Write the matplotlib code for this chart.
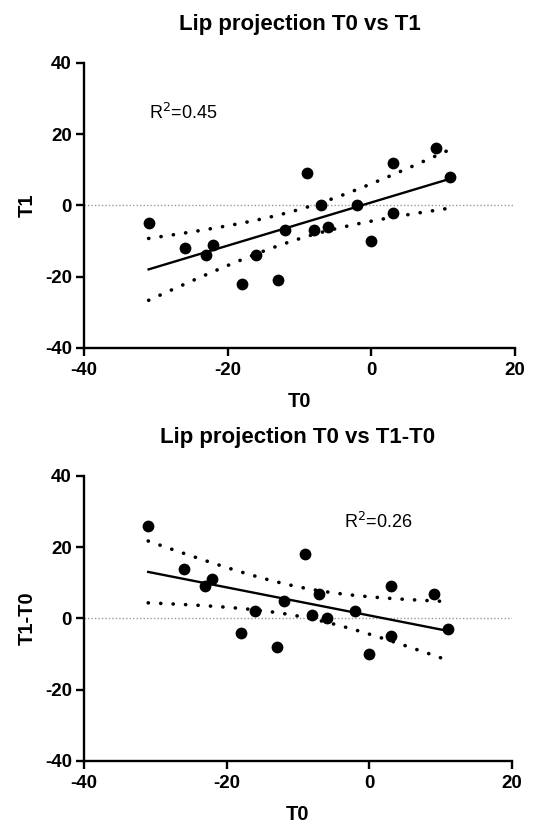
import matplotlib
matplotlib.use('Agg')
import matplotlib.pyplot as plt
import numpy as np

plt.rcParams['font.family'] = ['Liberation Sans', 'DejaVu Sans']
plt.rcParams['axes.unicode_minus'] = False

# lip projection measurements
t0 = [-31, -26, -22, -23, -18, -16, -13, -12, -9, -8, -7, -6, -2, 0, 3, 3, 9, 11]
t1 = [-5, -12, -11, -14, -22, -14, -21, -7, 9, -7, 0, -6, 0, -10, 12, -2, 16, 8]
t1_minus_t0 = [26, 14, 11, 9, -4, 2, -8, 5, 18, 1, 7, 0, 2, -10, 9, -5, 7, -3]

titles = ['Lip projection T0 vs T1', 'Lip projection T0 vs T1-T0']
ylabels = ['T1', 'T1-T0']
r2_texts = ['R$^2$=0.45', 'R$^2$=0.26']
r2_pos = [(-31, 26), (-3.5, 27)]
ticks = [-40, -20, 0, 20]
T_CRIT = 2.120  # t(0.975, df=16)


def fit_with_ci(x, y):
    x = np.asarray(x, float)
    y = np.asarray(y, float)
    n = len(x)
    b, a = np.polyfit(x, y, 1)
    resid = y - (a + b * x)
    s = np.sqrt(np.sum(resid ** 2) / (n - 2))
    sxx = np.sum((x - x.mean()) ** 2)
    xs = np.linspace(x.min(), x.max(), 100)
    ys = a + b * xs
    se = s * np.sqrt(1.0 / n + (xs - x.mean()) ** 2 / sxx)
    return xs, ys, ys - T_CRIT * se, ys + T_CRIT * se


fig = plt.figure(figsize=(5.36, 8.24), dpi=100)
ax1 = fig.add_axes([0.1567, 0.5777, 0.804, 0.3459])
ax2 = fig.add_axes([0.1567, 0.0765, 0.7985, 0.3459])

for ax, yv, title, ylab, r2, pos in zip([ax1, ax2], [t1, t1_minus_t0], titles,
                                       ylabels, r2_texts, r2_pos):
    ax.axhline(0, color='#999999', lw=1.0, ls=(0, (1, 1.5)), zorder=1)
    xs, ys, lo, hi = fit_with_ci(t0, yv)
    ax.plot(xs, ys, color='black', lw=1.7, zorder=2)
    for band in (lo, hi):
        ax.plot(xs, band, color='black', lw=2.6, ls=(0, (0.05, 3.4)),
                dash_capstyle='round', zorder=2)
    ax.scatter(t0, yv, s=72, color='black', zorder=3, linewidths=0)

    ax.set_xlim(-40, 20)
    ax.set_ylim(-40, 40)
    ax.set_xticks(ticks)
    ax.set_yticks([-40, -20, 0, 20, 40])
    for sp in ['top', 'right']:
        ax.spines[sp].set_visible(False)
    for sp in ['left', 'bottom']:
        ax.spines[sp].set_linewidth(1.7)
    ax.tick_params(width=1.7, length=5.8, labelsize=13.5)
    ax.tick_params(axis='x', pad=4.5)
    ax.tick_params(axis='y', pad=3)
    for lab in ax.get_xticklabels() + ax.get_yticklabels():
        lab.set_fontweight('bold')
    ax.set_xlabel('T0', fontsize=14.5, fontweight='bold', labelpad=9)
    ax.set_ylabel(ylab, fontsize=14.5, fontweight='bold', labelpad=6)
    ax.set_title(title, fontsize=16, fontweight='bold', pad=24)
    ax.text(pos[0], pos[1], r2, fontsize=13, va='center', ha='left')

fig.savefig('out.png', dpi=100)
